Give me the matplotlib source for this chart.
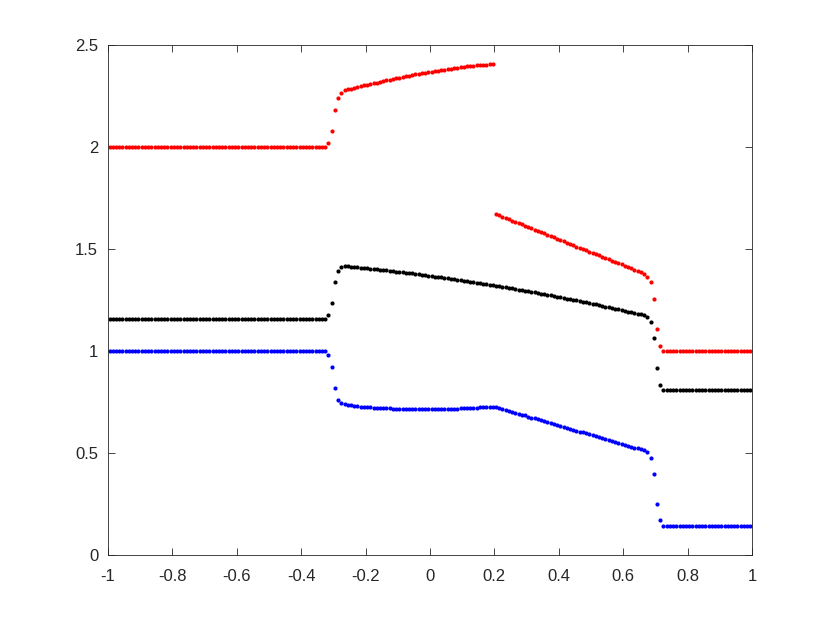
import numpy as np
import matplotlib
matplotlib.use("Agg")
import matplotlib.pyplot as plt

# cell-centre grid, 200 cells on [-1, 1]
x = np.linspace(-0.995, 0.995, 200)

# ── red series ──────────────────────────────────────────────
red_left = [2.0] * 68
red_jump1 = [2.018, 2.077, 2.181, 2.240, 2.264]
red_upper = [2.278, 2.282, 2.285, 2.289, 2.293, 2.297, 2.301, 2.304, 2.308, 2.312,
             2.315, 2.319, 2.322, 2.326, 2.329, 2.333, 2.336, 2.339, 2.342, 2.346,
             2.349, 2.352, 2.355, 2.358, 2.361, 2.363, 2.366, 2.369, 2.372, 2.374,
             2.377, 2.379, 2.382, 2.384, 2.386, 2.388, 2.390, 2.392, 2.394, 2.396,
             2.398, 2.399, 2.401, 2.402, 2.403, 2.404, 2.405]
red_lower = [1.670, 1.664, 1.658, 1.651, 1.645, 1.639, 1.632, 1.626, 1.620, 1.613,
             1.607, 1.601, 1.594, 1.588, 1.582, 1.576, 1.569, 1.563, 1.557, 1.550,
             1.544, 1.538, 1.531, 1.525, 1.519, 1.512, 1.506, 1.500, 1.494, 1.487,
             1.481, 1.475, 1.468, 1.462, 1.456, 1.449, 1.443, 1.437, 1.431, 1.424,
             1.418, 1.412, 1.405, 1.399, 1.393, 1.386, 1.376]
red_jump2 = [1.364, 1.337, 1.255, 1.108, 1.026]
red_right = [1.0] * 28

# ── black series ────────────────────────────────────────────
black_left = [1.157] * 68
black_jump1 = [1.176, 1.237, 1.338, 1.390, 1.411]
black_mid = [1.416, 1.415, 1.413, 1.411, 1.410, 1.408, 1.407, 1.405, 1.403, 1.402,
             1.400, 1.398, 1.397, 1.395, 1.393, 1.391, 1.389, 1.387, 1.385, 1.384,
             1.382, 1.380, 1.378, 1.376, 1.374, 1.372, 1.369, 1.367, 1.365, 1.363,
             1.361, 1.359, 1.356, 1.354, 1.352, 1.350, 1.347, 1.345, 1.343, 1.340,
             1.338, 1.335, 1.333, 1.330, 1.328, 1.325, 1.323, 1.320, 1.317, 1.315,
             1.312, 1.309, 1.307, 1.304, 1.301, 1.298, 1.296, 1.293, 1.290, 1.287,
             1.284, 1.281, 1.278, 1.275, 1.272, 1.269, 1.266, 1.263, 1.260, 1.257,
             1.254, 1.251, 1.248, 1.244, 1.241, 1.238, 1.235, 1.231, 1.228, 1.225,
             1.221, 1.218, 1.214, 1.211, 1.207, 1.204, 1.200, 1.197, 1.193, 1.190,
             1.186, 1.182, 1.179, 1.174]
black_jump2 = [1.165, 1.140, 1.062, 0.917, 0.835]
black_right = [0.808] * 28

# ── blue series ─────────────────────────────────────────────
blue_left = [1.0] * 68
blue_jump1 = [0.980, 0.923, 0.817, 0.762, 0.746]
blue_upper = [0.738, 0.735, 0.733, 0.731, 0.729, 0.727, 0.726, 0.725, 0.724, 0.723,
              0.722, 0.721, 0.720, 0.719, 0.719, 0.718, 0.718, 0.717, 0.717, 0.716,
              0.716, 0.716, 0.715, 0.715, 0.715, 0.715, 0.715, 0.716, 0.716, 0.716,
              0.716, 0.717, 0.717, 0.717, 0.718, 0.718, 0.719, 0.719, 0.720, 0.721,
              0.722, 0.723, 0.724, 0.725, 0.726, 0.727, 0.728]
blue_lower = [0.725, 0.720, 0.716, 0.711, 0.707, 0.702, 0.697, 0.693, 0.688, 0.684,
              0.679, 0.674, 0.670, 0.665, 0.661, 0.656, 0.651, 0.647, 0.642, 0.638,
              0.633, 0.628, 0.624, 0.619, 0.615, 0.610, 0.605, 0.601, 0.596, 0.592,
              0.587, 0.582, 0.578, 0.573, 0.569, 0.564, 0.559, 0.555, 0.550, 0.546,
              0.541, 0.536, 0.532, 0.527, 0.523, 0.518, 0.513]
blue_jump2 = [0.504, 0.477, 0.397, 0.250, 0.170]
blue_right = [0.144] * 28

xticks = [-1, -0.8, -0.6, -0.4, -0.2, 0, 0.2, 0.4, 0.6, 0.8, 1]
xtick_labels = ["-1", "-0.8", "-0.6", "-0.4", "-0.2", "0", "0.2", "0.4", "0.6", "0.8", "1"]
yticks = [0, 0.5, 1, 1.5, 2, 2.5]
ytick_labels = ["0", "0.5", "1", "1.5", "2", "2.5"]

red = red_left + red_jump1 + red_upper + red_lower + red_jump2 + red_right
black = black_left + black_jump1 + black_mid + black_jump2 + black_right
blue = blue_left + blue_jump1 + blue_upper + blue_lower + blue_jump2 + blue_right

plt.rcParams["font.family"] = ["Liberation Sans", "DejaVu Sans"]
plt.rcParams["axes.unicode_minus"] = False

AX_COLOR = "#262626"

fig = plt.figure(figsize=(8.3, 6.23), dpi=100, facecolor="white")
ax = fig.add_axes([0.130, 0.109, 0.776, 0.819])

for ys, col in [(red, "#ff0000"), (black, "#000000"), (blue, "#0000ff")]:
    ax.plot(x, ys, linestyle="none", marker="o", markersize=3.0,
            markeredgewidth=0, color=col)

ax.set_xlim(-1, 1)
ax.set_ylim(0, 2.5)
ax.set_xticks(xticks)
ax.set_xticklabels(xtick_labels)
ax.set_yticks(yticks)
ax.set_yticklabels(ytick_labels)

ax.tick_params(direction="in", length=5, width=0.6, colors=AX_COLOR,
               labelsize=12, top=True, right=True, pad=7)
ax.tick_params(axis="x", pad=10)
for sp in ax.spines.values():
    sp.set_color(AX_COLOR)
    sp.set_linewidth(0.6)

fig.savefig("out.png", dpi=100, facecolor="white")
